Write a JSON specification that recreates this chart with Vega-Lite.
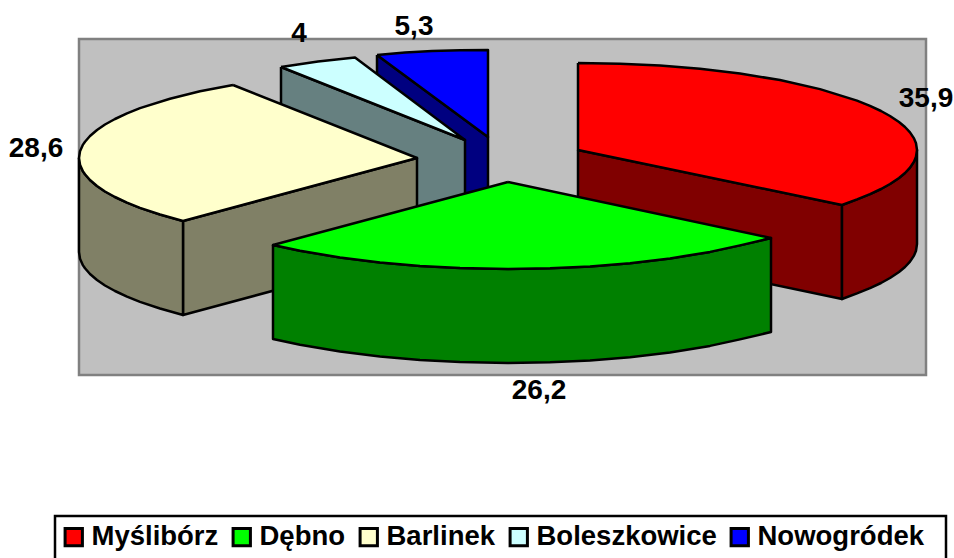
{"$schema":"https://vega.github.io/schema/vega-lite/v6.json","width":954,"height":558,"padding":0,"autosize":{"type":"none"},"background":"white","view":{"stroke":null},
"datasets":{"panel":[{"x":79,"x2":926,"y":39,"y2":375}],
"legendbox":[{"x":55,"x2":946,"y":516,"y2":575}],
"labels":[{"gmina":"Myślibórz","value":"35,9","x":926,"y":99},{"gmina":"Dębno","value":"26,2","x":539,"y":391},{"gmina":"Barlinek","value":"28,6","x":36,"y":149},{"gmina":"Boleszkowice","value":"4","x":299,"y":34},{"gmina":"Nowogródek","value":"5,3","x":414,"y":27}],
"shapes":[
{"shape":"n1","part":"Nowogródek bok","i":1,"x":377,"y":55},{"shape":"n1","part":"Nowogródek bok","i":2,"x":488,"y":137},{"shape":"n1","part":"Nowogródek bok","i":3,"x":488,"y":231},{"shape":"n1","part":"Nowogródek bok","i":4,"x":377,"y":149},{"shape":"n1","part":"Nowogródek bok","i":5,"x":377,"y":55},
{"shape":"n2","part":"Nowogródek","i":1,"x":377,"y":55},{"shape":"n2","part":"Nowogródek","i":2,"x":405,"y":52.6},{"shape":"n2","part":"Nowogródek","i":3,"x":432,"y":51},{"shape":"n2","part":"Nowogródek","i":4,"x":460,"y":50.3},{"shape":"n2","part":"Nowogródek","i":5,"x":488,"y":50},{"shape":"n2","part":"Nowogródek","i":6,"x":488,"y":137},{"shape":"n2","part":"Nowogródek","i":7,"x":377,"y":55},
{"shape":"b1","part":"Boleszkowice bok","i":1,"x":281,"y":67},{"shape":"b1","part":"Boleszkowice bok","i":2,"x":465,"y":140},{"shape":"b1","part":"Boleszkowice bok","i":3,"x":465,"y":234},{"shape":"b1","part":"Boleszkowice bok","i":4,"x":281,"y":161},{"shape":"b1","part":"Boleszkowice bok","i":5,"x":281,"y":67},
{"shape":"b2","part":"Boleszkowice","i":1,"x":281,"y":67},{"shape":"b2","part":"Boleszkowice","i":2,"x":318,"y":61.6},{"shape":"b2","part":"Boleszkowice","i":3,"x":355,"y":57.5},{"shape":"b2","part":"Boleszkowice","i":4,"x":465,"y":140},{"shape":"b2","part":"Boleszkowice","i":5,"x":281,"y":67},
{"shape":"l1","part":"Barlinek bok","i":1,"x":183,"y":221},{"shape":"l1","part":"Barlinek bok","i":2,"x":417,"y":158},{"shape":"l1","part":"Barlinek bok","i":3,"x":417,"y":252},{"shape":"l1","part":"Barlinek bok","i":4,"x":183,"y":315},{"shape":"l1","part":"Barlinek bok","i":5,"x":183,"y":221},
{"shape":"l2","part":"Barlinek bok","i":1,"x":79,"y":158},{"shape":"l2","part":"Barlinek bok","i":2,"x":80,"y":164.7},{"shape":"l2","part":"Barlinek bok","i":3,"x":83,"y":171.4},{"shape":"l2","part":"Barlinek bok","i":4,"x":85,"y":174.3},{"shape":"l2","part":"Barlinek bok","i":5,"x":90,"y":180},{"shape":"l2","part":"Barlinek bok","i":6,"x":97,"y":186},{"shape":"l2","part":"Barlinek bok","i":7,"x":105,"y":191.5},{"shape":"l2","part":"Barlinek bok","i":8,"x":115,"y":197},{"shape":"l2","part":"Barlinek bok","i":9,"x":127,"y":202.7},{"shape":"l2","part":"Barlinek bok","i":10,"x":140,"y":207.9},{"shape":"l2","part":"Barlinek bok","i":11,"x":160,"y":214.5},{"shape":"l2","part":"Barlinek bok","i":12,"x":183,"y":221},{"shape":"l2","part":"Barlinek bok","i":13,"x":183,"y":315},{"shape":"l2","part":"Barlinek bok","i":14,"x":160,"y":308.5},{"shape":"l2","part":"Barlinek bok","i":15,"x":140,"y":301.9},{"shape":"l2","part":"Barlinek bok","i":16,"x":127,"y":296.7},{"shape":"l2","part":"Barlinek bok","i":17,"x":115,"y":291},{"shape":"l2","part":"Barlinek bok","i":18,"x":105,"y":285.5},{"shape":"l2","part":"Barlinek bok","i":19,"x":97,"y":280},{"shape":"l2","part":"Barlinek bok","i":20,"x":90,"y":274},{"shape":"l2","part":"Barlinek bok","i":21,"x":85,"y":268.3},{"shape":"l2","part":"Barlinek bok","i":22,"x":83,"y":265.4},{"shape":"l2","part":"Barlinek bok","i":23,"x":80,"y":258.7},{"shape":"l2","part":"Barlinek bok","i":24,"x":79,"y":252},{"shape":"l2","part":"Barlinek bok","i":25,"x":79,"y":158},
{"shape":"l3","part":"Barlinek","i":1,"x":233,"y":85},{"shape":"l3","part":"Barlinek","i":2,"x":200,"y":91.3},{"shape":"l3","part":"Barlinek","i":3,"x":170,"y":98.7},{"shape":"l3","part":"Barlinek","i":4,"x":140,"y":108.1},{"shape":"l3","part":"Barlinek","i":5,"x":127,"y":113.3},{"shape":"l3","part":"Barlinek","i":6,"x":115,"y":119},{"shape":"l3","part":"Barlinek","i":7,"x":105,"y":124.5},{"shape":"l3","part":"Barlinek","i":8,"x":97,"y":130},{"shape":"l3","part":"Barlinek","i":9,"x":90,"y":136},{"shape":"l3","part":"Barlinek","i":10,"x":85,"y":141.7},{"shape":"l3","part":"Barlinek","i":11,"x":83,"y":144.6},{"shape":"l3","part":"Barlinek","i":12,"x":80,"y":151.3},{"shape":"l3","part":"Barlinek","i":13,"x":79,"y":158},{"shape":"l3","part":"Barlinek","i":14,"x":80,"y":164.7},{"shape":"l3","part":"Barlinek","i":15,"x":83,"y":171.4},{"shape":"l3","part":"Barlinek","i":16,"x":85,"y":174.3},{"shape":"l3","part":"Barlinek","i":17,"x":90,"y":180},{"shape":"l3","part":"Barlinek","i":18,"x":97,"y":186},{"shape":"l3","part":"Barlinek","i":19,"x":105,"y":191.5},{"shape":"l3","part":"Barlinek","i":20,"x":115,"y":197},{"shape":"l3","part":"Barlinek","i":21,"x":127,"y":202.7},{"shape":"l3","part":"Barlinek","i":22,"x":140,"y":207.9},{"shape":"l3","part":"Barlinek","i":23,"x":160,"y":214.5},{"shape":"l3","part":"Barlinek","i":24,"x":183,"y":221},{"shape":"l3","part":"Barlinek","i":25,"x":417,"y":158},{"shape":"l3","part":"Barlinek","i":26,"x":233,"y":85},
{"shape":"m1","part":"Myślibórz bok","i":1,"x":578,"y":150},{"shape":"m1","part":"Myślibórz bok","i":2,"x":842,"y":205},{"shape":"m1","part":"Myślibórz bok","i":3,"x":842,"y":299},{"shape":"m1","part":"Myślibórz bok","i":4,"x":578,"y":244},{"shape":"m1","part":"Myślibórz bok","i":5,"x":578,"y":150},
{"shape":"m2","part":"Myślibórz bok","i":1,"x":842,"y":205},{"shape":"m2","part":"Myślibórz bok","i":2,"x":857,"y":199.4},{"shape":"m2","part":"Myślibórz bok","i":3,"x":870,"y":194.2},{"shape":"m2","part":"Myślibórz bok","i":4,"x":881,"y":189},{"shape":"m2","part":"Myślibórz bok","i":5,"x":890,"y":184},{"shape":"m2","part":"Myślibórz bok","i":6,"x":899,"y":178},{"shape":"m2","part":"Myślibórz bok","i":7,"x":905,"y":173},{"shape":"m2","part":"Myślibórz bok","i":8,"x":910,"y":167.6},{"shape":"m2","part":"Myślibórz bok","i":9,"x":914,"y":161.6},{"shape":"m2","part":"Myślibórz bok","i":10,"x":916,"y":156.7},{"shape":"m2","part":"Myślibórz bok","i":11,"x":917,"y":150},{"shape":"m2","part":"Myślibórz bok","i":12,"x":917,"y":244},{"shape":"m2","part":"Myślibórz bok","i":13,"x":916,"y":250.7},{"shape":"m2","part":"Myślibórz bok","i":14,"x":914,"y":255.6},{"shape":"m2","part":"Myślibórz bok","i":15,"x":910,"y":261.6},{"shape":"m2","part":"Myślibórz bok","i":16,"x":905,"y":267},{"shape":"m2","part":"Myślibórz bok","i":17,"x":899,"y":272},{"shape":"m2","part":"Myślibórz bok","i":18,"x":890,"y":278},{"shape":"m2","part":"Myślibórz bok","i":19,"x":881,"y":283},{"shape":"m2","part":"Myślibórz bok","i":20,"x":870,"y":288.2},{"shape":"m2","part":"Myślibórz bok","i":21,"x":857,"y":293.4},{"shape":"m2","part":"Myślibórz bok","i":22,"x":842,"y":299},{"shape":"m2","part":"Myślibórz bok","i":23,"x":842,"y":205},
{"shape":"m3","part":"Myślibórz","i":1,"x":578,"y":63},{"shape":"m3","part":"Myślibórz","i":2,"x":620,"y":63.7},{"shape":"m3","part":"Myślibórz","i":3,"x":660,"y":65.6},{"shape":"m3","part":"Myślibórz","i":4,"x":700,"y":68.8},{"shape":"m3","part":"Myślibórz","i":5,"x":740,"y":73.6},{"shape":"m3","part":"Myślibórz","i":6,"x":780,"y":80},{"shape":"m3","part":"Myślibórz","i":7,"x":820,"y":89.1},{"shape":"m3","part":"Myślibórz","i":8,"x":857,"y":100.6},{"shape":"m3","part":"Myślibórz","i":9,"x":870,"y":105.8},{"shape":"m3","part":"Myślibórz","i":10,"x":881,"y":111},{"shape":"m3","part":"Myślibórz","i":11,"x":890,"y":116},{"shape":"m3","part":"Myślibórz","i":12,"x":899,"y":122},{"shape":"m3","part":"Myślibórz","i":13,"x":905,"y":127},{"shape":"m3","part":"Myślibórz","i":14,"x":910,"y":132.4},{"shape":"m3","part":"Myślibórz","i":15,"x":914,"y":138.4},{"shape":"m3","part":"Myślibórz","i":16,"x":916,"y":143.3},{"shape":"m3","part":"Myślibórz","i":17,"x":917,"y":150},{"shape":"m3","part":"Myślibórz","i":18,"x":916,"y":156.7},{"shape":"m3","part":"Myślibórz","i":19,"x":914,"y":161.6},{"shape":"m3","part":"Myślibórz","i":20,"x":910,"y":167.6},{"shape":"m3","part":"Myślibórz","i":21,"x":905,"y":173},{"shape":"m3","part":"Myślibórz","i":22,"x":899,"y":178},{"shape":"m3","part":"Myślibórz","i":23,"x":890,"y":184},{"shape":"m3","part":"Myślibórz","i":24,"x":881,"y":189},{"shape":"m3","part":"Myślibórz","i":25,"x":870,"y":194.2},{"shape":"m3","part":"Myślibórz","i":26,"x":857,"y":199.4},{"shape":"m3","part":"Myślibórz","i":27,"x":842,"y":205},{"shape":"m3","part":"Myślibórz","i":28,"x":578,"y":150},{"shape":"m3","part":"Myślibórz","i":29,"x":578,"y":63},
{"shape":"d1","part":"Dębno bok","i":1,"x":273,"y":245},{"shape":"d1","part":"Dębno bok","i":2,"x":300,"y":250.7},{"shape":"d1","part":"Dębno bok","i":3,"x":340,"y":257.5},{"shape":"d1","part":"Dębno bok","i":4,"x":380,"y":262.5},{"shape":"d1","part":"Dębno bok","i":5,"x":420,"y":266},{"shape":"d1","part":"Dębno bok","i":6,"x":460,"y":268.1},{"shape":"d1","part":"Dębno bok","i":7,"x":508,"y":269},{"shape":"d1","part":"Dębno bok","i":8,"x":550,"y":268.3},{"shape":"d1","part":"Dębno bok","i":9,"x":590,"y":266.4},{"shape":"d1","part":"Dębno bok","i":10,"x":630,"y":263.2},{"shape":"d1","part":"Dębno bok","i":11,"x":670,"y":258.4},{"shape":"d1","part":"Dębno bok","i":12,"x":710,"y":251.9},{"shape":"d1","part":"Dębno bok","i":13,"x":740,"y":245.4},{"shape":"d1","part":"Dębno bok","i":14,"x":771,"y":238},{"shape":"d1","part":"Dębno bok","i":15,"x":771,"y":332},{"shape":"d1","part":"Dębno bok","i":16,"x":740,"y":339.4},{"shape":"d1","part":"Dębno bok","i":17,"x":710,"y":345.9},{"shape":"d1","part":"Dębno bok","i":18,"x":670,"y":352.4},{"shape":"d1","part":"Dębno bok","i":19,"x":630,"y":357.2},{"shape":"d1","part":"Dębno bok","i":20,"x":590,"y":360.4},{"shape":"d1","part":"Dębno bok","i":21,"x":550,"y":362.3},{"shape":"d1","part":"Dębno bok","i":22,"x":508,"y":363},{"shape":"d1","part":"Dębno bok","i":23,"x":460,"y":362.1},{"shape":"d1","part":"Dębno bok","i":24,"x":420,"y":360},{"shape":"d1","part":"Dębno bok","i":25,"x":380,"y":356.5},{"shape":"d1","part":"Dębno bok","i":26,"x":340,"y":351.5},{"shape":"d1","part":"Dębno bok","i":27,"x":300,"y":344.7},{"shape":"d1","part":"Dębno bok","i":28,"x":273,"y":339},{"shape":"d1","part":"Dębno bok","i":29,"x":273,"y":245},
{"shape":"d2","part":"Dębno","i":1,"x":508,"y":182},{"shape":"d2","part":"Dębno","i":2,"x":771,"y":238},{"shape":"d2","part":"Dębno","i":3,"x":740,"y":245.4},{"shape":"d2","part":"Dębno","i":4,"x":710,"y":251.9},{"shape":"d2","part":"Dębno","i":5,"x":670,"y":258.4},{"shape":"d2","part":"Dębno","i":6,"x":630,"y":263.2},{"shape":"d2","part":"Dębno","i":7,"x":590,"y":266.4},{"shape":"d2","part":"Dębno","i":8,"x":550,"y":268.3},{"shape":"d2","part":"Dębno","i":9,"x":508,"y":269},{"shape":"d2","part":"Dębno","i":10,"x":460,"y":268.1},{"shape":"d2","part":"Dębno","i":11,"x":420,"y":266},{"shape":"d2","part":"Dębno","i":12,"x":380,"y":262.5},{"shape":"d2","part":"Dębno","i":13,"x":340,"y":257.5},{"shape":"d2","part":"Dębno","i":14,"x":300,"y":250.7},{"shape":"d2","part":"Dębno","i":15,"x":273,"y":245},{"shape":"d2","part":"Dębno","i":16,"x":508,"y":182}
]},
"layer":[
{"data":{"name":"panel"},"mark":{"type":"rect","fill":"#C0C0C0","stroke":"#808080","strokeWidth":2.5},"encoding":{"x":{"field":"x","type":"quantitative","scale":{"domain":[0,954]},"axis":null},"x2":{"field":"x2"},"y":{"field":"y","type":"quantitative","scale":{"domain":[558,0]},"axis":null},"y2":{"field":"y2"}}},
{"data":{"name":"legendbox"},"mark":{"type":"rect","fill":"white","stroke":"black","strokeWidth":2.5,"clip":false},"encoding":{"x":{"field":"x","type":"quantitative","scale":{"domain":[0,954]},"axis":null},"x2":{"field":"x2"},"y":{"field":"y","type":"quantitative","scale":{"domain":[558,0]},"axis":null},"y2":{"field":"y2"}}},
{"data":{"name":"shapes"},"mark":{"type":"line","stroke":"black","strokeWidth":2.5,"strokeJoin":"round","clip":false},"encoding":{"x":{"field":"x","type":"quantitative","scale":{"domain":[0,954]},"axis":null},"y":{"field":"y","type":"quantitative","scale":{"domain":[558,0]},"axis":null},"order":{"field":"i","type":"quantitative"},"detail":{"field":"shape","type":"nominal"},"fill":{"field":"part","type":"nominal","scale":{"domain":["Myślibórz","Dębno","Barlinek","Boleszkowice","Nowogródek","Myślibórz bok","Dębno bok","Barlinek bok","Boleszkowice bok","Nowogródek bok"],"range":["#FF0000","#00FF00","#FFFFCC","#CCFFFF","#0000FF","#800000","#008000","#808066","#668080","#000080"]},"legend":{"values":["Myślibórz","Dębno","Barlinek","Boleszkowice","Nowogródek"],"title":null,"orient":"none","legendX":60,"legendY":523,"direction":"horizontal","columns":5,"symbolType":"square","symbolSize":300,"symbolStrokeColor":"black","symbolStrokeWidth":3,"symbolOpacity":1,"labelFont":"Liberation Sans","labelFontWeight":"bold","labelFontSize":27.5,"labelColor":"black","labelLimit":300,"labelOffset":4,"columnPadding":8,"padding":0}}}},
{"data":{"name":"labels"},"mark":{"type":"text","font":"Liberation Sans","fontWeight":"bold","fontSize":28,"color":"black","baseline":"middle","align":"center"},"encoding":{"x":{"field":"x","type":"quantitative","scale":{"domain":[0,954]},"axis":null},"y":{"field":"y","type":"quantitative","scale":{"domain":[558,0]},"axis":null},"text":{"field":"value","type":"nominal"}}}
]}
